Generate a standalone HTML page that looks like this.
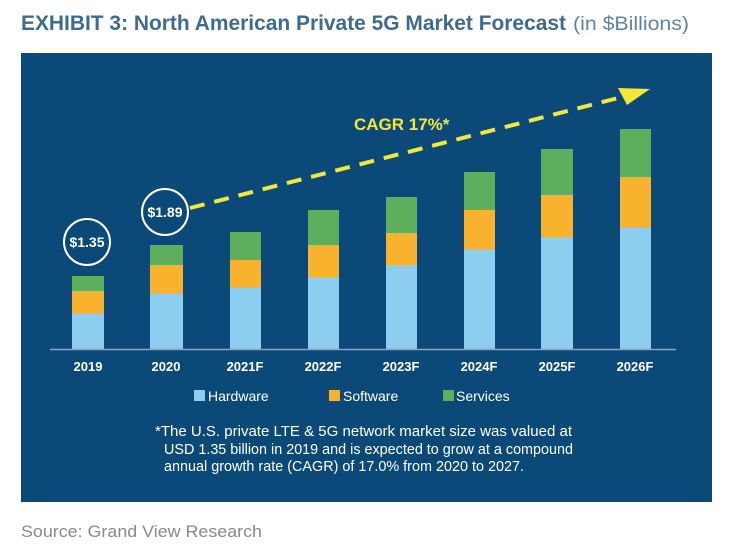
<!DOCTYPE html>
<html><head><style>
body{margin:0;width:733px;height:555px;background:#fff;overflow:hidden;font-family:"Liberation Sans",sans-serif}
</style></head><body>
<svg width="733" height="555" xmlns="http://www.w3.org/2000/svg" font-family="Liberation Sans, sans-serif">
<text x="21" y="30" font-size="21" font-weight="bold" fill="#3f6c8e" textLength="545" lengthAdjust="spacingAndGlyphs">EXHIBIT 3: North American Private 5G Market Forecast</text>
<text x="573" y="30" font-size="19" fill="#5f84a2" textLength="116" lengthAdjust="spacingAndGlyphs">(in $Billions)</text>
<rect x="21" y="53" width="691" height="449" fill="#0b4a78"/>
<g>
<rect x="72" y="276" width="32" height="15" fill="#5fae5d"/><rect x="72" y="291" width="32" height="23" fill="#f9b22e"/><rect x="72" y="314" width="32" height="35" fill="#8dcdf0"/>
<rect x="150" y="245" width="33" height="20" fill="#5fae5d"/><rect x="150" y="265" width="33" height="29" fill="#f9b22e"/><rect x="150" y="294" width="33" height="55" fill="#8dcdf0"/>
<rect x="230" y="232" width="31" height="28" fill="#5fae5d"/><rect x="230" y="260" width="31" height="28" fill="#f9b22e"/><rect x="230" y="288" width="31" height="61" fill="#8dcdf0"/>
<rect x="308" y="210" width="31" height="35" fill="#5fae5d"/><rect x="308" y="245" width="31" height="32" fill="#f9b22e"/><rect x="308" y="277" width="31" height="72" fill="#8dcdf0"/>
<rect x="386" y="197" width="31" height="36" fill="#5fae5d"/><rect x="386" y="233" width="31" height="32" fill="#f9b22e"/><rect x="386" y="265" width="31" height="84" fill="#8dcdf0"/>
<rect x="464" y="172" width="31" height="38" fill="#5fae5d"/><rect x="464" y="210" width="31" height="40" fill="#f9b22e"/><rect x="464" y="250" width="31" height="99" fill="#8dcdf0"/>
<rect x="541" y="149" width="32" height="46" fill="#5fae5d"/><rect x="541" y="195" width="32" height="42" fill="#f9b22e"/><rect x="541" y="237" width="32" height="112" fill="#8dcdf0"/>
<rect x="620" y="129" width="31" height="48" fill="#5fae5d"/><rect x="620" y="177" width="31" height="51" fill="#f9b22e"/><rect x="620" y="228" width="31" height="121" fill="#8dcdf0"/>
</g>
<line x1="50" y1="349.5" x2="676" y2="349.5" stroke="#8aa6bf" stroke-width="1.5"/>
<g font-size="13" font-weight="bold" fill="#fff" text-anchor="middle">
<text x="88" y="371">2019</text><text x="166" y="371">2020</text><text x="245" y="371">2021F</text><text x="323" y="371">2022F</text><text x="401" y="371">2023F</text><text x="479" y="371">2024F</text><text x="557" y="371">2025F</text><text x="635" y="371">2026F</text>
</g>
<circle cx="87" cy="242" r="23" fill="none" stroke="#fff" stroke-width="2"/>
<circle cx="165" cy="212" r="23" fill="none" stroke="#fff" stroke-width="2"/>
<text x="87" y="247" font-size="14" font-weight="bold" fill="#fff" text-anchor="middle">$1.35</text>
<text x="165" y="217" font-size="14" font-weight="bold" fill="#fff" text-anchor="middle">$1.89</text>
<line x1="190" y1="208" x2="622" y2="97" stroke="#f2e83a" stroke-width="4" stroke-dasharray="15,10"/>
<polygon points="650,89 618,88 627,105" fill="#f2e83a"/>
<text x="354" y="130" font-size="17" font-weight="bold" fill="#f2e83a">CAGR 17%*</text>
<g font-size="14" fill="#fff">
<rect x="194" y="390" width="11" height="11" fill="#8dcdf0"/><text x="208" y="401">Hardware</text>
<rect x="329" y="390" width="11" height="11" fill="#f9b22e"/><text x="343" y="401">Software</text>
<rect x="443" y="390" width="11" height="11" fill="#5fae5d"/><text x="456" y="401">Services</text>
<text x="155" y="436" font-size="14.5" textLength="417" lengthAdjust="spacingAndGlyphs">*The U.S. private LTE &amp; 5G network market size was valued at</text>
<text x="164" y="454" font-size="14.5" textLength="409" lengthAdjust="spacingAndGlyphs">USD 1.35 billion in 2019 and is expected to grow at a compound</text>
<text x="164" y="471" font-size="14.5" textLength="360" lengthAdjust="spacingAndGlyphs">annual growth rate (CAGR) of 17.0% from 2020 to 2027.</text>
</g>
<text x="21" y="537" font-size="17" fill="#8a8a8a" textLength="241" lengthAdjust="spacingAndGlyphs">Source: Grand View Research</text>
</svg>
</body></html>
